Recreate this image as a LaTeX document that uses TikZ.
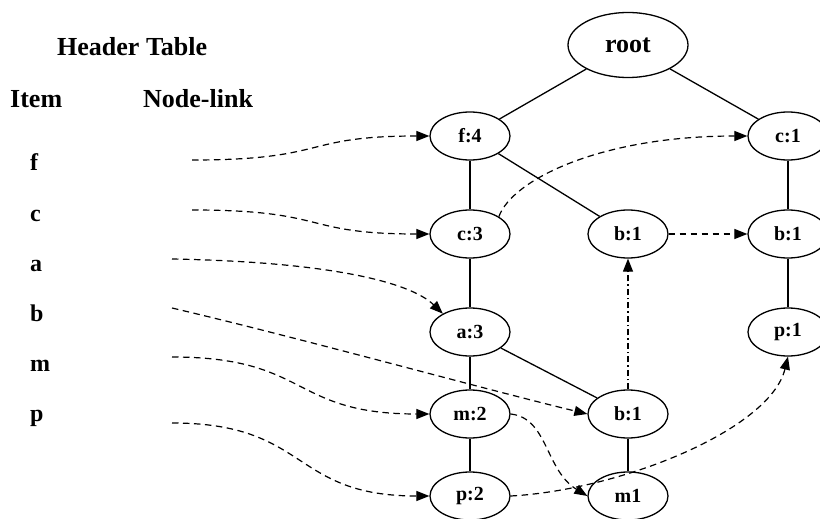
\documentclass[tikz,border=0pt]{standalone}
\usepackage{fontspec}
\setmainfont{Liberation Serif}
\usetikzlibrary{arrows.meta,shapes.geometric}
\begin{document}
\begin{tikzpicture}[x=1pt,y=-1pt,
  nd/.style={draw,ellipse,line width=1.3pt,minimum width=80pt,minimum height=48pt,inner sep=0pt,
    font=\fontsize{20}{21}\selectfont\bfseries},
  hd/.style={anchor=base west,inner sep=0pt,font=\fontsize{26}{27}\selectfont\bfseries},
  itm/.style={anchor=base west,inner sep=0pt,font=\fontsize{24}{25}\selectfont\bfseries},
  tree/.style={line width=1.3pt},
  lnk/.style={line width=1.2pt,dash pattern=on 6.5pt off 4.5pt,-{Triangle[length=13pt,width=10pt]}},
  lnkdd/.style={line width=1.2pt,dash pattern=on 6pt off 3pt on 1.5pt off 3pt,-{Triangle[length=13pt,width=10pt]}}
]
\useasboundingbox (0,0) rectangle (820,519);

% header table
\node[hd] (ht) at (57,56) {Header Table};
\node[hd] (hi) at (10,107) {Item};
\node[hd] (hn) at (143,107) {Node-link};
\node[itm] (if) at (30,170) {f};
\node[itm] (ic) at (30,221) {c};
\node[itm] (ia) at (30,271) {a};
\node[itm] (ib) at (30,321) {b};
\node[itm] (im) at (30,371) {m};
\node[itm] (ip) at (30,421) {p};

% tree nodes
\node[nd,minimum width=120pt,minimum height=65pt,font=\fontsize{26}{27}\selectfont\bfseries] (root) at (628,45) {root};
\node[nd] (f4) at (470,136) {f:4};
\node[nd] (c1) at (788,136) {c:1};
\node[nd] (c3) at (470,234) {c:3};
\node[nd] (b1m) at (628,234) {b:1};
\node[nd] (b1r) at (788,234) {b:1};
\node[nd] (a3) at (470,332) {a:3};
\node[nd] (p1) at (788,332) {p:1};
\node[nd] (m2) at (470,414) {m:2};
\node[nd] (b1l) at (628,414) {b:1};
\node[nd] (p2) at (470,496) {p:2};
\node[nd] (m1) at (628,496) {m1};

% tree edges
\draw[tree] (root) -- (f4);
\draw[tree] (root) -- (c1);
\draw[tree] (f4) -- (c3);
\draw[tree] (f4) -- (b1m);
\draw[tree] (c1) -- (b1r);
\draw[tree] (c3) -- (a3);
\draw[tree] (b1r) -- (p1);
\draw[tree] (a3) -- (m2);
\draw[tree] (a3) -- (b1l);
\draw[tree] (m2) -- (p2);
\draw[tree] (b1l) -- (m1);

% header links
\coordinate (sf) at (192,160);
\coordinate (sc) at (192,210);
\coordinate (sa) at (172,259);
\coordinate (sb) at (172,308);
\coordinate (sm) at (172,357);
\coordinate (sp) at (172,423);
\draw[lnk] (sf) .. controls (330,160) and (300,136) .. (f4.west);
\draw[lnk] (sc) .. controls (330,210) and (300,234) .. (c3.west);
\draw[lnk] (sa) .. controls (330,262) and (410,282) .. (a3.146);
\draw[lnk] (sb) .. controls (300,338) and (480,388) .. (b1l.west);
\draw[lnk] (sm) .. controls (310,357) and (290,414) .. (m2.west);
\draw[lnk] (sp) .. controls (310,423) and (290,496) .. (p2.west);

% node links
\draw[lnk] (c3.31) .. controls (512,180) and (600,136) .. (c1.west);
\draw[lnk] (b1m.east) -- (b1r.west);
\draw[lnkdd] (b1l.north) -- (b1m.south);
\draw[lnk] (m2.east) .. controls (548,418) and (545,470) .. (m1.west);
\draw[lnk] (p2.east) .. controls (620,490) and (770,430) .. (p1.south);
\end{tikzpicture}
\end{document}
